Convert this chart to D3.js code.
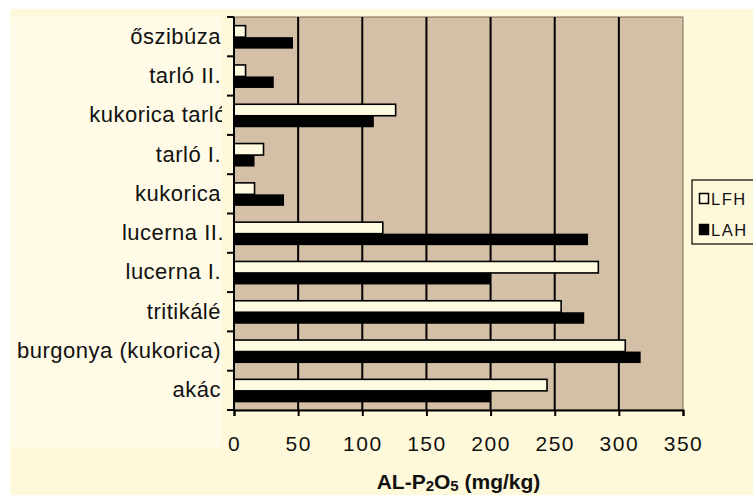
<!DOCTYPE html>
<html>
<head>
<meta charset="utf-8">
<script src="https://cdn.jsdelivr.net/npm/d3@7"></script>
<style>
  body { margin: 0; background: #ffffff; }
  svg { display: block; }
</style>
</head>
<body>
<div id="chart"></div>
<script>
// categories top to bottom, as in the picture
var categories = ["őszibúza", "tarló II.", "kukorica tarló", "tarló I.", "kukorica",
  "lucerna II.", "lucerna I.", "tritikálé", "burgonya (kukorica)", "akác"];
var lfh = [9, 9, 126, 23, 16, 116, 284, 255, 305, 244];
var lah = [46, 31, 109, 16, 39, 276, 200, 273, 317, 200];
var seriesNames = ["LFH", "LAH"];
var xTicks = [0, 50, 100, 150, 200, 250, 300, 350];

var W = 753, H = 495;
var margin = {top: 17, right: 70, bottom: 85, left: 234},
    width = 683 - margin.left,
    height = 410 - margin.top;

var font = "Liberation Sans, Arial, sans-serif";

var svg = d3.select("#chart").append("svg")
  .attr("width", W)
  .attr("height", H);

// labels get cut where the plot starts
svg.append("clipPath").attr("id", "labelclip")
  .append("rect").attr("x", 0).attr("y", 0).attr("width", 222).attr("height", H);

// cream background
svg.append("rect")
  .attr("x", 10).attr("y", 9)
  .attr("width", W - 10).attr("height", H - 9)
  .attr("fill", "#fff9db");
svg.append("rect")
  .attr("x", 10).attr("y", 17)
  .attr("width", 212).attr("height", 430)
  .attr("fill", "#fffbe6");

var g = svg.append("g")
  .attr("transform", "translate(" + margin.left + "," + margin.top + ")");

var x = d3.scaleLinear().domain([0, 350]).range([0, width]);
var y = d3.scaleBand().domain(categories).range([0, height]).paddingInner(0).paddingOuter(0);

// plot area
g.append("rect")
  .attr("width", width).attr("height", height)
  .attr("fill", "#d3c0a7")
  .attr("stroke", "#7a6b58")
  .attr("stroke-width", 1);

// vertical gridlines
g.selectAll(".grid")
  .data(xTicks.filter(function(d) { return d > 0 && d < 350; }))
  .enter().append("line")
  .attr("x1", function(d) { return x(d); })
  .attr("x2", function(d) { return x(d); })
  .attr("y1", 0).attr("y2", height)
  .attr("stroke", "#000").attr("stroke-width", 2);

var barH = 11.5;

// LFH bars (light)
g.selectAll(".lfh")
  .data(categories)
  .enter().append("rect")
  .attr("x", x(0))
  .attr("y", function(d) { return y(d) + y.bandwidth() / 2 - barH + 0.5; })
  .attr("width", function(d, i) { return x(lfh[i]) - x(0); })
  .attr("height", barH)
  .attr("fill", "#fffbe0")
  .attr("stroke", "#000")
  .attr("stroke-width", 1.6);

// LAH bars (black)
g.selectAll(".lah")
  .data(categories)
  .enter().append("rect")
  .attr("x", x(0))
  .attr("y", function(d) { return y(d) + y.bandwidth() / 2 + 0.5; })
  .attr("width", function(d, i) { return x(lah[i]) - x(0); })
  .attr("height", barH)
  .attr("fill", "#000");

// category axis (drawn in a clipped group so long labels get cut like the original)
var labelG = svg.append("g").attr("clip-path", "url(#labelclip)")
  .append("g")
  .attr("transform", "translate(" + margin.left + "," + margin.top + ")");
var yAxis = labelG.call(d3.axisLeft(y).tickSize(0).tickPadding(13));
yAxis.select(".domain").remove();
yAxis.selectAll("text")
  .style("font-family", font)
  .style("font-size", "22px")
  .style("letter-spacing", "0.5px")
  .attr("fill", "#111")
  .attr("dx", function(d) {
    if (d === "kukorica tarló") return 6;
    if (d === "lucerna II.") return 3;
    return 0;
  });

// band boundary ticks on the left
g.selectAll(".btick")
  .data(d3.range(categories.length + 1))
  .enter().append("line")
  .attr("x1", -7).attr("x2", 0)
  .attr("y1", function(i) { return i * y.step(); })
  .attr("y2", function(i) { return i * y.step(); })
  .attr("stroke", "#000").attr("stroke-width", 2);

g.append("line")
  .attr("x1", 0).attr("x2", 0)
  .attr("y1", 0).attr("y2", height)
  .attr("stroke", "#000").attr("stroke-width", 2);

// value axis
var xAxis = g.append("g")
  .attr("transform", "translate(0," + height + ")")
  .call(d3.axisBottom(x).tickValues(xTicks).tickSize(6).tickPadding(20));
xAxis.select(".domain").attr("stroke-width", 2);
xAxis.selectAll(".tick line").attr("stroke-width", 2);
xAxis.selectAll("text")
  .style("font-family", font)
  .style("font-size", "21px")
  .style("letter-spacing", "1.5px")
  .attr("fill", "#111");

// axis title
var title = svg.append("text")
  .attr("x", margin.left + width / 2)
  .attr("y", 489)
  .attr("text-anchor", "middle")
  .style("font-family", font)
  .style("font-size", "21px")
  .style("font-weight", "bold")
  .attr("fill", "#111");
title.append("tspan").text("AL-P");
title.append("tspan").text("2").style("font-size", "15px").attr("dy", 2);
title.append("tspan").text("O").attr("dy", -2);
title.append("tspan").text("5").style("font-size", "15px").attr("dy", 2);
title.append("tspan").text(" (mg/kg)").attr("dy", -2);

// legend
var legend = svg.append("g");
legend.append("rect")
  .attr("x", 692).attr("y", 180)
  .attr("width", 80).attr("height", 64)
  .attr("fill", "#fff9db")
  .attr("stroke", "#000").attr("stroke-width", 1.2);

var items = legend.selectAll(".item")
  .data(seriesNames)
  .enter().append("g")
  .attr("transform", function(d, i) { return "translate(699," + (193 + i * 31) + ")"; });
items.append("rect")
  .attr("x", 0.5).attr("y", 0.5)
  .attr("width", 9).attr("height", 10)
  .attr("fill", function(d, i) { return i === 0 ? "#fffbe0" : "#000"; })
  .attr("stroke", "#000").attr("stroke-width", 1.5);
items.append("text")
  .attr("x", 12).attr("y", 11.5)
  .style("font-family", font)
  .style("font-size", "16.5px")
  .style("letter-spacing", "1.5px")
  .attr("fill", "#111")
  .text(function(d) { return d; });
</script>
</body>
</html>
